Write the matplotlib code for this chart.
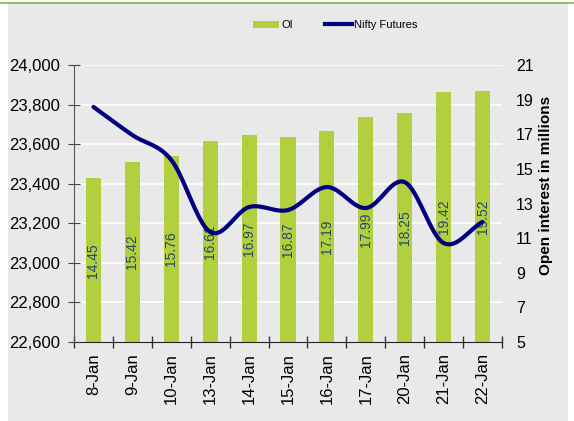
import numpy as np
import matplotlib.pyplot as plt
from matplotlib.patches import Patch, Rectangle
from matplotlib.lines import Line2D
from matplotlib.transforms import blended_transform_factory

plt.rcParams['font.family'] = ['Liberation Sans', 'DejaVu Sans']

dates = ['8-Jan', '9-Jan', '10-Jan', '13-Jan', '14-Jan', '15-Jan', '16-Jan', '17-Jan', '20-Jan', '21-Jan', '22-Jan']
oi = [14.45, 15.42, 15.76, 16.61, 16.97, 16.87, 17.19, 17.99, 18.25, 19.42, 19.52]
nifty = [23788, 23646, 23520, 23156, 23282, 23267, 23383, 23277, 23408, 23100, 23207]
left_ticks = [22600, 22800, 23000, 23200, 23400, 23600, 23800, 24000]
right_ticks = [5, 7, 9, 11, 13, 15, 17, 19, 21]

bar_col = '#b2cf3e'
line_col = '#000080'
bg = '#e9e9e9'


def smooth(x, y, n=20):
    # catmull-rom style smoothing, like Excel's smoothed line
    x = np.asarray(x, float)
    y = np.asarray(y, float)
    px = np.concatenate([[2 * x[0] - x[1]], x, [2 * x[-1] - x[-2]]])
    py = np.concatenate([[2 * y[0] - y[1]], y, [2 * y[-1] - y[-2]]])
    xs, ys = [], []
    t = np.linspace(0, 1, n)
    for i in range(1, len(px) - 2):
        for p, out in ((px, xs), (py, ys)):
            p0, p1, p2, p3 = p[i - 1], p[i], p[i + 1], p[i + 2]
            out.extend(0.5 * (2 * p1 + (-p0 + p2) * t + (2 * p0 - 5 * p1 + 4 * p2 - p3) * t ** 2
                              + (-p0 + 3 * p1 - 3 * p2 + p3) * t ** 3))
    return np.array(xs), np.array(ys)


fig = plt.figure(figsize=(5.74, 4.21), dpi=100)
fig.patches.append(Rectangle((8 / 574, 0), 560 / 574, 418 / 421, transform=fig.transFigure,
                             facecolor=bg, edgecolor='none', zorder=-10))
fig.add_artist(Line2D([0, 1], [1 - 2.5 / 421, 1 - 2.5 / 421], transform=fig.transFigure,
                      color='#7ab648', lw=1.2))

ax2 = fig.add_axes([74 / 574, 1 - 342 / 421, 428 / 574, 277 / 421])
ax = ax2.twinx()
ax2.set_facecolor(bg)
ax.patch.set_visible(False)

x = np.arange(len(dates))

# gridlines follow the left (Nifty) axis but sit behind the bars
tr = blended_transform_factory(ax2.transAxes, ax.transData)
for t in left_ticks[1:]:
    ax2.plot([0, 1], [t, t], transform=tr, color='white', lw=1.2, zorder=0)

ax2.bar(x, np.array(oi) - 5, bottom=5, width=0.39, color=bar_col, zorder=2)
for xi, v in zip(x, oi):
    ax2.text(xi, (5 + v) / 2, f'{v:.2f}', rotation=90, ha='center', va='center',
             fontsize=10, color='#24476b', zorder=3)
ax2.set_ylim(5, 21)
ax2.set_yticks(right_ticks)
ax2.yaxis.tick_right()
ax2.tick_params(axis='y', length=0, labelsize=11.5, pad=10)
ax2.set_xlim(-0.5, len(dates) - 0.5)
ax2.set_xticks(x)
ax2.set_xticklabels(dates, rotation=90, fontsize=12)
ax2.tick_params(axis='x', length=0, pad=8)
ax2.set_xticks(np.arange(-0.5, len(dates)), minor=True)
ax2.tick_params(axis='x', which='minor', direction='inout', length=8, width=1, color='#333333')
for s in ['top', 'right', 'left']:
    ax2.spines[s].set_visible(False)
ax2.spines['bottom'].set_color('#222222')
ax2.spines['bottom'].set_zorder(5)

ax.yaxis.tick_left()
ax.yaxis.set_label_position('left')
sx, sy = smooth(x, nifty)
ax.plot(sx, sy, color=line_col, lw=3, solid_capstyle='round', zorder=4)
ax.set_ylim(22600, 24000)
ax.set_yticks(left_ticks)
ax.set_yticklabels([f'{t:,}' for t in left_ticks])
ax.tick_params(axis='y', direction='inout', length=8, labelsize=12, color='#444444', pad=6)
for s in ['top', 'right', 'bottom']:
    ax.spines[s].set_visible(False)
ax.spines['left'].set_color('#555555')

fig.text(546 / 574, 1 - 185 / 421, 'Open interest in millions', rotation=90, ha='center',
         va='center', fontsize=11, fontweight='bold')

handles = [Patch(facecolor=bar_col, edgecolor='none', label='OI'),
           Line2D([0], [0], color=line_col, lw=3, label='Nifty Futures')]
fig.legend(handles=handles, loc='center', bbox_to_anchor=(0.584, 1 - 25 / 421), ncol=2,
           frameon=False, fontsize=8, handlelength=2.35, handletextpad=0.25, columnspacing=2.9,
           handleheight=0.6)

fig.savefig('out.png', dpi=100)
